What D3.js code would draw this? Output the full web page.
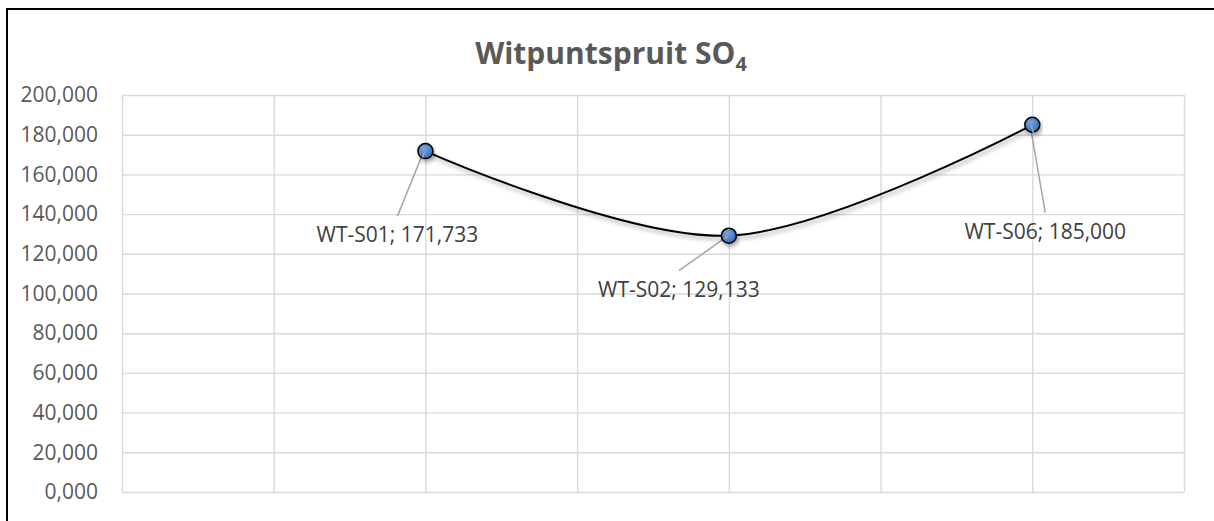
<!DOCTYPE html>
<meta charset="utf-8">
<style>
  body { margin: 0; background: #fff; }
  .tick text { font-family: "Open Sans", sans-serif; font-size: 21px; fill: #595959; }
  .grid line { stroke: #d9d9d9; stroke-width: 1.4px; }
  .grid .domain { display: none; }
  .lbl { font-family: "Open Sans", sans-serif; font-size: 21px; fill: #404040; }
</style>
<script src="https://d3js.org/d3.v7.min.js"></script>
<div id="chart"></div>
<script>
// data
const sites = ["WT-S01", "WT-S02", "WT-S06"];
const xSlots = [2, 4, 6];
const so4 = [171.733, 129.133, 185.000];
const yTicks = [0, 20, 40, 60, 80, 100, 120, 140, 160, 180, 200];
const xTicks = [0, 1, 2, 3, 4, 5, 6, 7];

const W = 1214, H = 521;
const plot = {left: 122, right: 1184, top: 95, bottom: 492};

// label placement relative to each point (center x, baseline y)
const labelOffsets = [[-28, 91], [-50, 61], [13, 114]];

const fmt = v => d3.format(".3f")(v).replace(".", ",");
const fmtLabel = v => d3.format(",.3f")(v).replace(".", ",");

const svg = d3.select("#chart").append("svg")
  .attr("width", W).attr("height", H);

const defs = svg.append("defs");
const shadow = defs.append("filter").attr("id", "shadow")
  .attr("x", "-20%").attr("y", "-20%").attr("width", "140%").attr("height", "160%");
shadow.append("feDropShadow")
  .attr("dx", 1.5).attr("dy", 3).attr("stdDeviation", 2)
  .attr("flood-color", "#000").attr("flood-opacity", 0.35);

const grad = defs.append("radialGradient").attr("id", "dotFill")
  .attr("cx", "40%").attr("cy", "35%").attr("r", "65%");
grad.append("stop").attr("offset", "0%").attr("stop-color", "#7aa7e0");
grad.append("stop").attr("offset", "100%").attr("stop-color", "#3a6cb8");

// chart frame (only left/top visible in the crop)
svg.append("path")
  .attr("d", `M7,${H + 5} L7,9 L${W + 5},9`)
  .attr("fill", "none").attr("stroke", "#000").attr("stroke-width", 2);

const x = d3.scaleLinear().domain([0, 7]).range([plot.left, plot.right]);
const y = d3.scaleLinear().domain([0, 200]).range([plot.bottom, plot.top]);

// horizontal gridlines + y labels
svg.append("g")
  .attr("class", "grid")
  .attr("transform", `translate(${plot.left},0)`)
  .call(d3.axisLeft(y).tickValues(yTicks).tickSize(-(plot.right - plot.left))
    .tickPadding(24).tickFormat(fmt));

// vertical gridlines
svg.append("g")
  .attr("class", "grid")
  .attr("transform", `translate(0,${plot.bottom})`)
  .call(d3.axisBottom(x).tickValues(xTicks).tickSize(-(plot.bottom - plot.top)).tickFormat(""));

// title
const title = svg.append("text")
  .attr("x", 611).attr("y", 64)
  .attr("text-anchor", "middle")
  .style("font-family", "'Open Sans', sans-serif")
  .style("font-weight", "bold")
  .style("font-size", "30px")
  .style("fill", "#595959");
title.append("tspan").text("Witpuntspruit SO");
title.append("tspan").attr("dy", 7).style("font-size", "20px").text("4");

const data = sites.map((s, i) => ({site: s, xv: xSlots[i], v: so4[i], off: labelOffsets[i]}));

// leader lines
svg.append("g").selectAll("line")
  .data(data)
  .join("line")
  .attr("x1", d => x(d.xv) + d.off[0])
  .attr("y1", d => y(d.v) + d.off[1] - 26)
  .attr("x2", d => x(d.xv) - 2)
  .attr("y2", d => y(d.v) + 1)
  .attr("stroke", "#a6a6a6").attr("stroke-width", 1.5);

// smoothed line
svg.append("path")
  .datum(data)
  .attr("d", d3.line().x(d => x(d.xv)).y(d => y(d.v)).curve(d3.curveCardinal.tension(0)))
  .attr("fill", "none")
  .attr("stroke", "#000")
  .attr("stroke-width", 2)
  .attr("filter", "url(#shadow)");

// markers
svg.append("g").selectAll("circle")
  .data(data)
  .join("circle")
  .attr("cx", d => x(d.xv))
  .attr("cy", d => y(d.v))
  .attr("r", 7.5)
  .attr("fill", "url(#dotFill)")
  .attr("stroke", "#000")
  .attr("stroke-width", 1.5)
  .attr("filter", "url(#shadow)");

// leader line tips drawn over the markers
svg.append("g").selectAll("line")
  .data(data)
  .join("line")
  .attr("x1", d => x(d.xv) + d.off[0] * 0.1)
  .attr("y1", d => y(d.v) + (d.off[1] - 26) * 0.1)
  .attr("x2", d => x(d.xv) - 1)
  .attr("y2", d => y(d.v) + 1)
  .attr("stroke", "#a6a6a6").attr("stroke-width", 1.5);

// data labels
svg.append("g").selectAll("text")
  .data(data)
  .join("text")
  .attr("class", "lbl")
  .attr("x", d => x(d.xv) + d.off[0])
  .attr("y", d => y(d.v) + d.off[1])
  .attr("text-anchor", "middle")
  .text(d => `${d.site}; ${fmtLabel(d.v)}`);
</script>
